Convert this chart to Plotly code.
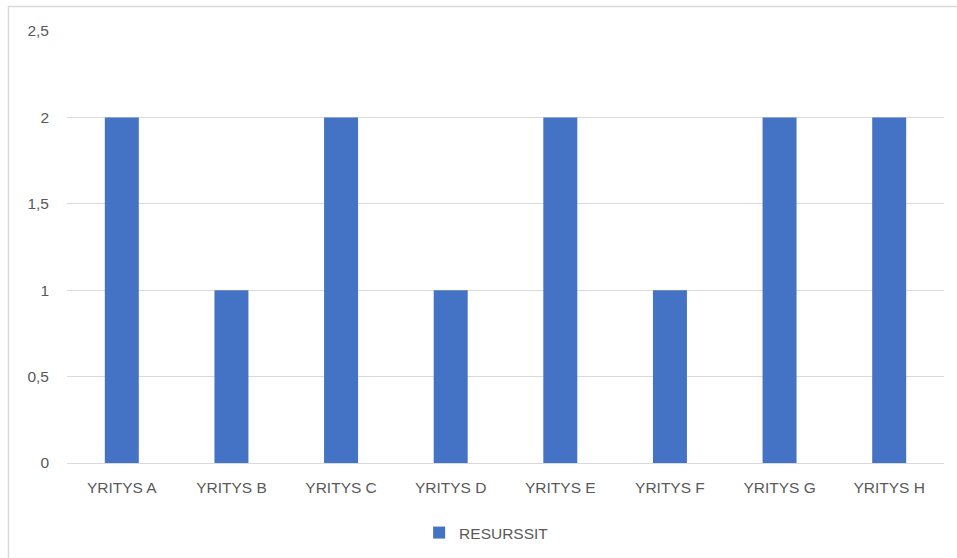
import plotly.graph_objects as go

categories = ["YRITYS A", "YRITYS B", "YRITYS C", "YRITYS D",
              "YRITYS E", "YRITYS F", "YRITYS G", "YRITYS H"]
values = [2, 1, 2, 1, 2, 1, 2, 2]
series_name = "RESURSSIT"
y_tickvals = [0, 0.5, 1, 1.5, 2, 2.5]
y_ticktext = ["0", "0,5", "1", "1,5", "2", "2,5"]

W, H = 957, 558
ML, MR, MT, MB = 67, 13, 31, 95
plot_h = H - MT - MB

fig = go.Figure()
fig.add_trace(go.Bar(
    x=categories, y=values, name=series_name,
    marker=dict(color="#4472C4", line=dict(width=0)),
    showlegend=True,
))

font = dict(family="Liberation Sans, Arial, sans-serif", size=15.5, color="#595959")

fig.update_layout(
    width=W, height=H,
    margin=dict(l=ML, r=MR, t=MT, b=MB, pad=0, autoexpand=False),
    paper_bgcolor="white", plot_bgcolor="white",
    font=font,
    bargap=0.69,
    showlegend=True,
    legend=dict(orientation="h", x=0.4015, xanchor="left",
                y=-70 / plot_h, yanchor="middle",
                font=font, bgcolor="rgba(0,0,0,0)"),
    xaxis=dict(showgrid=False, showline=False, ticks="", automargin=False,
               tickfont=font, ticklabelstandoff=13, fixedrange=True),
    yaxis=dict(range=[0, 2.5], tickvals=y_tickvals, ticktext=y_ticktext,
               showgrid=True, gridcolor="#D9D9D9", gridwidth=1,
               zeroline=True, zerolinecolor="#D9D9D9", zerolinewidth=1,
               showline=False, ticks="", tickfont=font, automargin=False,
               ticklabelstandoff=17, fixedrange=True),
    shapes=[dict(type="rect", xref="paper", yref="paper",
                 xsizemode="pixel", ysizemode="pixel",
                 xanchor=0, yanchor=1,
                 x0=-58.5, x1=1000, y0=24.5, y1=-1000,
                 line=dict(color="#D9D9D9", width=1.5),
                 fillcolor="rgba(0,0,0,0)", layer="below")],
)

fig.write_html("out.html")
